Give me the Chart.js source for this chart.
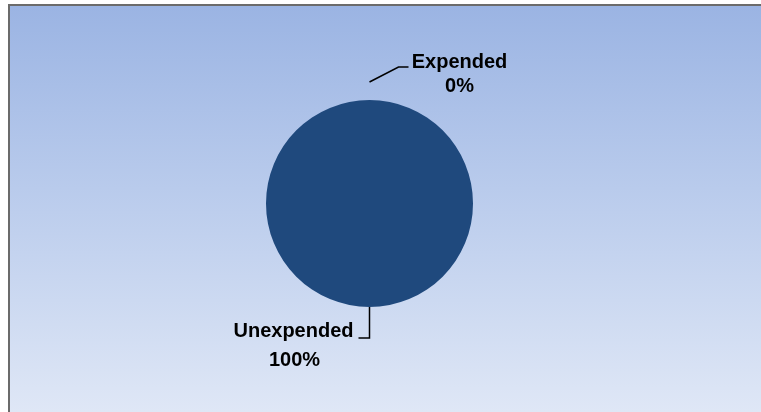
<!DOCTYPE html>
<html>
<head>
<meta charset="utf-8">
<script src="https://cdn.jsdelivr.net/npm/chart.js@4.4.0/dist/chart.umd.min.js"></script>
<style>
  html,body{margin:0;padding:0;background:#ffffff;width:761px;height:412px;overflow:hidden;}
  #frame{position:absolute;left:8px;top:4px;width:753px;height:408px;box-sizing:border-box;
    border-top:2px solid #6b6b6b;border-left:2px solid #6b6b6b;
    background:linear-gradient(to bottom,#9bb4e3 0%,#b9cbec 45%,#dfe7f6 100%);}
  #wrap{position:absolute;left:0;top:0;width:761px;height:412px;}
</style>
</head>
<body>
<div id="frame"></div>
<div id="wrap"><canvas id="c" width="761" height="412"></canvas></div>
<script>
const categories = ["Expended", "Unexpended"];
const values = [0, 100];
const percentLabels = ["0%", "100%"];
const colors = ["#4f81bd", "#1f497d"];

const labelPlugin = {
  id: 'leaderLabels',
  afterDatasetsDraw(chart) {
    const ctx = chart.ctx;
    const meta = chart.getDatasetMeta(0);
    ctx.save();
    ctx.strokeStyle = '#000';
    ctx.lineWidth = 1.5;
    ctx.fillStyle = '#000';
    ctx.font = 'bold 20px "Liberation Sans", Arial, sans-serif';
    ctx.textBaseline = 'alphabetic';
    meta.data.forEach((arc, i) => {
      const p = arc.getProps(['x','y','startAngle','endAngle','outerRadius'], true);
      const mid = (p.startAngle + p.endAngle) / 2;
      const r = p.outerRadius;
      const ca = Math.cos(mid), sa = Math.sin(mid);
      ctx.beginPath();
      if (sa < 0) {
        // top label: leader goes up-right
        const x0 = p.x + ca * (r + 18), y0 = p.y + sa * (r + 18);
        const x1 = x0 + 29, y1 = y0 - 15;
        const x2 = x1 + 10;
        ctx.moveTo(x0, y0); ctx.lineTo(x1, y1); ctx.lineTo(x2, y1);
        ctx.stroke();
        ctx.textAlign = 'center';
        const tx = x2 + 51;
        ctx.fillText(categories[i], tx, y1 + 1);
        ctx.fillText(percentLabels[i], tx, y1 + 25);
      } else {
        const x0 = p.x + ca * r, y0 = p.y + sa * r;
        const y1 = y0 + 31;
        const x2 = x0 - 11;
        ctx.moveTo(x0, y0); ctx.lineTo(x0, y1); ctx.lineTo(x2, y1);
        ctx.stroke();
        ctx.textAlign = 'center';
        const tx = x2 - 65;
        ctx.fillText(categories[i], tx, y1 - 1);
        ctx.fillText(percentLabels[i], tx + 1, y1 + 28);
      }
    });
    ctx.restore();
  }
};

new Chart(document.getElementById('c'), {
  type: 'pie',
  data: {
    labels: categories,
    datasets: [{
      data: values,
      backgroundColor: colors,
      borderWidth: 0
    }]
  },
  options: {
    responsive: false,
    animation: false,
    rotation: 0,
    layout: { padding: { top: 100, bottom: 105, left: 266, right: 288 } },
    plugins: { legend: { display: false }, tooltip: { enabled: false } }
  },
  plugins: [labelPlugin]
});
</script>
</body>
</html>
